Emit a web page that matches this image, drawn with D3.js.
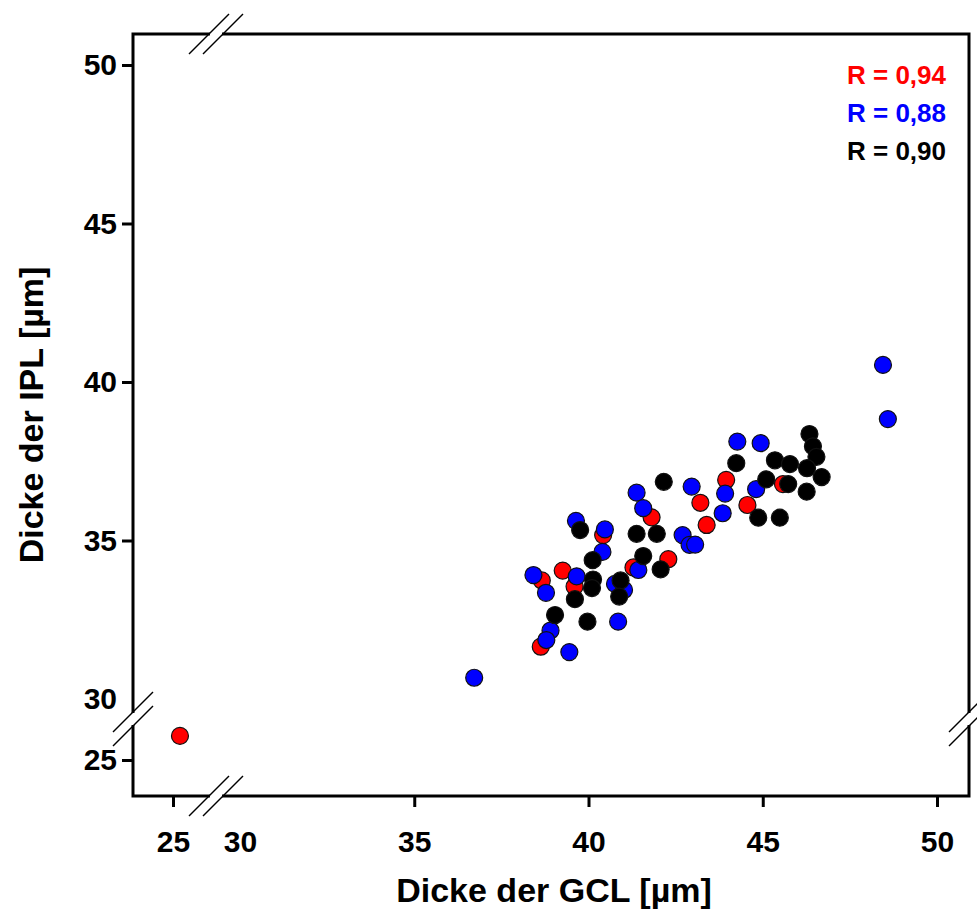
<!DOCTYPE html>
<html>
<head>
<meta charset="utf-8">
<script src="https://cdn.jsdelivr.net/npm/d3@7"></script>
<style>
  body { margin: 0; background: #fff; }
  svg text { font-family: "Liberation Sans", Arial, sans-serif; font-weight: bold; }
</style>
</head>
<body>
<svg id="plot" width="977" height="921"></svg>
<script>
// GCL (x) vs IPL (y) thickness, three groups
const redX = [25.2, 41.81, 40.42, 41.29, 42.29, 39.26, 38.66, 39.60, 38.63, 43.95, 43.21, 43.39, 44.56, 45.58]
const redY = [25.76, 35.73, 35.17, 34.15, 34.41, 34.05, 33.74, 33.55, 31.65, 36.91, 36.19, 35.49, 36.12, 36.78]

const blueX = [36.72, 48.45, 48.59, 41.38, 41.57, 39.64, 40.47, 40.40, 41.43, 38.42, 38.78, 39.66, 40.76, 41.02,
    40.85, 38.91, 38.79, 39.45, 44.27, 44.94, 44.81, 43.92, 43.85, 42.96, 42.70, 42.90, 43.06]
const blueY = [30.67, 40.54, 38.83, 36.51, 36.02, 35.62, 35.35, 34.64, 34.07, 33.91, 33.35, 33.87, 33.63, 33.44,
    32.44, 32.16, 31.86, 31.48, 38.12, 38.07, 36.62, 36.48, 35.86, 36.70, 35.17, 34.86, 34.87]

const blackX = [42.16, 39.76, 41.38, 41.96, 40.12, 41.57, 42.07, 40.13, 40.10, 40.92, 40.88, 39.61, 39.04, 39.97,
    46.34, 46.44, 46.54, 46.27, 46.69, 46.26, 44.24, 45.35, 45.78, 45.10, 45.73, 44.87, 45.49]
const blackY = [36.85, 35.33, 35.21, 35.21, 34.38, 34.51, 34.09, 33.77, 33.50, 33.74, 33.23, 33.15, 32.65, 32.44,
    38.36, 37.97, 37.64, 37.28, 37.00, 36.54, 37.44, 37.53, 37.41, 36.93, 36.78, 35.72, 35.72]

const xTicksLow = [25]
const xTicksHigh = [30, 35, 40, 45, 50]
const yTicksLow = [25]
const yTicksHigh = [30, 35, 40, 45, 50]

const rLabels = ["R = 0,94", "R = 0,88", "R = 0,90"]
const colors = ["#ff0000", "#0000ff", "#000000"]

const frame = { left: 133, right: 969, top: 34, bottom: 796 }

// broken axes: a short low segment near 25 and the main segment 30..50
const xLow = d3.scaleLinear().domain([25, 26]).range([173, 207.85])
const xHigh = d3.scaleLinear().domain([30, 50]).range([240, 937])
const yLow = d3.scaleLinear().domain([25, 26]).range([760, 728.3])
const yHigh = d3.scaleLinear().domain([30, 50]).range([699, 65])

const x = v => v < 28 ? xLow(v) : xHigh(v)
const y = v => v < 28 ? yLow(v) : yHigh(v)

const xBreak = 216
const yBreak = 719

const svg = d3.select("#plot")

const fmt = d3.format("d")

function xAxis(scale, ticks) {
  return g => g
    .attr("transform", `translate(0,${frame.bottom})`)
    .call(d3.axisBottom(scale).tickValues(ticks).tickSize(11).tickPadding(24).tickFormat(fmt))
    .call(g => g.select(".domain").remove())
    .call(g => g.selectAll(".tick line").attr("stroke-width", 3).filter(d => d === 30).remove())
    .call(g => g.selectAll(".tick text").attr("font-size", 30).attr("fill", "#000").attr("font-family", null))
}

function yAxis(scale, ticks) {
  return g => g
    .attr("transform", `translate(${frame.left},0)`)
    .call(d3.axisLeft(scale).tickValues(ticks).tickSize(11).tickPadding(5).tickFormat(fmt))
    .call(g => g.select(".domain").remove())
    .call(g => g.selectAll(".tick line").attr("stroke-width", 3).filter(d => d === 30).remove())
    .call(g => g.selectAll(".tick text").attr("font-size", 30).attr("fill", "#000").attr("font-family", null))
}

svg.append("g").call(xAxis(xLow, xTicksLow))
svg.append("g").call(xAxis(xHigh, xTicksHigh))
svg.append("g").call(yAxis(yLow, yTicksLow))
svg.append("g").call(yAxis(yHigh, yTicksHigh))

// frame
svg.append("rect")
    .attr("x", frame.left)
    .attr("y", frame.top)
    .attr("width", frame.right - frame.left)
    .attr("height", frame.bottom - frame.top)
    .attr("fill", "none")
    .attr("stroke", "#000")
    .attr("stroke-width", 3)

// break marks: white gap + two slashes
const gap = 7, half = 20
function xBreakMark(cy) {
  svg.append("rect")
      .attr("x", xBreak - gap + 1).attr("y", cy - 3)
      .attr("width", 2 * gap - 2).attr("height", 6)
      .attr("fill", "#fff")
  for (const dx of [-gap, gap]) {
    svg.append("line")
        .attr("x1", xBreak + dx - half).attr("y1", cy + half)
        .attr("x2", xBreak + dx + half).attr("y2", cy - half)
        .attr("stroke", "#000").attr("stroke-width", 1.5)
  }
}
function yBreakMark(cx) {
  svg.append("rect")
      .attr("x", cx - 3).attr("y", yBreak - gap + 1)
      .attr("width", 6).attr("height", 2 * gap - 2)
      .attr("fill", "#fff")
  for (const dy of [-gap, gap]) {
    svg.append("line")
        .attr("x1", cx - half).attr("y1", yBreak + dy + half)
        .attr("x2", cx + half).attr("y2", yBreak + dy - half)
        .attr("stroke", "#000").attr("stroke-width", 1.5)
  }
}
xBreakMark(frame.bottom)
xBreakMark(frame.top)
yBreakMark(frame.left)
yBreakMark(frame.right)

// points, red first, then blue, then black on top
const groups = [
  d3.zip(redX, redY),
  d3.zip(blueX, blueY),
  d3.zip(blackX, blackY)
]

groups.forEach((pts, i) => {
  svg.append("g")
    .selectAll("circle")
    .data(pts)
    .join("circle")
      .attr("cx", d => x(d[0]))
      .attr("cy", d => y(d[1]))
      .attr("r", 8.5)
      .attr("fill", colors[i])
      .attr("stroke", "#111")
      .attr("stroke-width", 1.2)
})

// correlation labels
svg.append("g")
  .selectAll("text")
  .data(rLabels)
  .join("text")
    .attr("x", 946)
    .attr("y", (d, i) => 84 + i * 38)
    .attr("text-anchor", "end")
    .attr("font-size", 26)
    .attr("fill", (d, i) => colors[i])
    .text(d => d)

// axis titles
svg.append("text")
    .attr("x", (frame.left + frame.right) / 2 + 3)
    .attr("y", 902)
    .attr("text-anchor", "middle")
    .attr("font-size", 34)
    .text("Dicke der GCL [µm]")

svg.append("text")
    .attr("transform", `translate(43,${(frame.top + frame.bottom) / 2}) rotate(-90)`)
    .attr("text-anchor", "middle")
    .attr("font-size", 34)
    .text("Dicke der IPL [µm]")
</script>
</body>
</html>
